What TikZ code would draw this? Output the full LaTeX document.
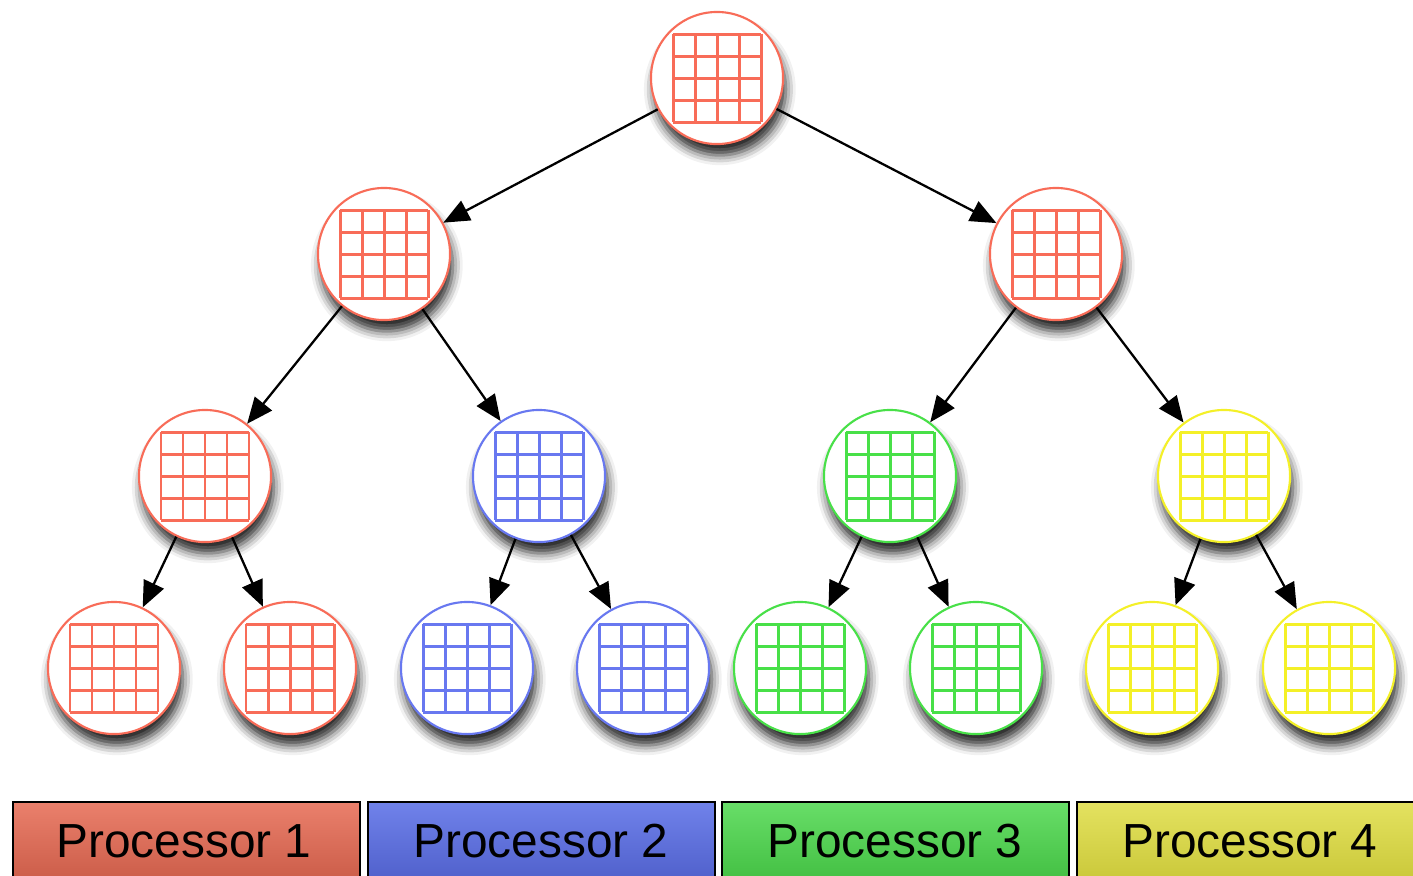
\documentclass[tikz,border=0pt]{standalone}
\usepackage{fontspec}
\setmainfont{Liberation Sans}
\usetikzlibrary{arrows.meta,shadows.blur}

\definecolor{redline}{RGB}{248,108,88}
\definecolor{blueline}{RGB}{104,120,240}
\definecolor{greenline}{RGB}{72,224,72}
\definecolor{yellowline}{RGB}{244,240,40}
\definecolor{redtop}{RGB}{234,128,108}
\definecolor{redbot}{RGB}{196,84,64}
\definecolor{bluetop}{RGB}{112,130,234}
\definecolor{bluebot}{RGB}{72,88,196}
\definecolor{greentop}{RGB}{104,222,104}
\definecolor{greenbot}{RGB}{58,184,58}
\definecolor{yellowtop}{RGB}{228,226,96}
\definecolor{yellowbot}{RGB}{196,194,48}

\tikzset{
  cell/.style={circle, draw=#1, line width=.6pt, fill=white,
    minimum size=1.32cm, inner sep=0pt,
    blur shadow={shadow xshift=.8pt, shadow yshift=-3.2pt,
      shadow blur radius=2.8pt, shadow opacity=85}},
  split/.style={-{Triangle[length=7.4pt,width=6.2pt]}, line width=.65pt},
  bar/.style={draw=black, line width=.5pt},
  barlabel/.style={font=\fontsize{13.6}{16}\selectfont, inner sep=0pt}
}

% 4x4 block drawn inside a cell node
\newcommand{\cellgrid}[2]{%
  \foreach \k in {0,...,4}{
    \draw[#2, line width=.85pt] ([shift={(-44+22*\k,-44)}]#1.center) -- ++(0,88);
    \draw[#2, line width=.85pt] ([shift={(-44,-44+22*\k)}]#1.center) -- ++(88,0);
  }}

\begin{document}
\begin{tikzpicture}[x=0.01cm, y=-0.01cm]
  \useasboundingbox (0,0) rectangle (1413,875);

  % tree
  \node[cell=redline] (root) at (717,78) {};
  \node[cell=redline] (l) at (384,254) {};
  \node[cell=redline] (r) at (1056,254) {};
  \node[cell=redline] (ll) at (205,476) {};
  \node[cell=blueline] (lr) at (539,476) {};
  \node[cell=greenline] (rl) at (890,476) {};
  \node[cell=yellowline] (rr) at (1224,476) {};
  \node[cell=redline] (lll) at (114,668) {};
  \node[cell=redline] (llr) at (290,668) {};
  \node[cell=blueline] (lrl) at (467,668) {};
  \node[cell=blueline] (lrr) at (643,668) {};
  \node[cell=greenline] (rll) at (800,668) {};
  \node[cell=greenline] (rlr) at (976,668) {};
  \node[cell=yellowline] (rrl) at (1152,668) {};
  \node[cell=yellowline] (rrr) at (1329,668) {};

  \foreach \n in {root,l,r,ll,lll,llr} {\cellgrid{\n}{redline}}
  \foreach \n in {lr,lrl,lrr} {\cellgrid{\n}{blueline}}
  \foreach \n in {rl,rll,rlr} {\cellgrid{\n}{greenline}}
  \foreach \n in {rr,rrl,rrr} {\cellgrid{\n}{yellowline}}

  \foreach \a/\b in {root/l,root/r,l/ll,l/lr,r/rl,r/rr,
                     ll/lll,ll/llr,lr/lrl,lr/lrr,rl/rll,rl/rlr,rr/rrl,rr/rrr}
    \draw[split] (\a) -- (\b);

  % processors
  \draw[bar, top color=redtop, bottom color=redbot] (13,802) rectangle (360,900);
  \draw[bar, top color=bluetop, bottom color=bluebot] (368,802) rectangle (715,900);
  \draw[bar, top color=greentop, bottom color=greenbot] (722,802) rectangle (1069,900);
  \draw[bar, top color=yellowtop, bottom color=yellowbot] (1077,802) rectangle (1424,900);
  \node[barlabel] (p1) at (184,841) {Processor 1};
  \node[barlabel] (p2) at (541,841) {Processor 2};
  \node[barlabel] (p3) at (895,841) {Processor 3};
  \node[barlabel] (p4) at (1250,841) {Processor 4};
\end{tikzpicture}
\end{document}
